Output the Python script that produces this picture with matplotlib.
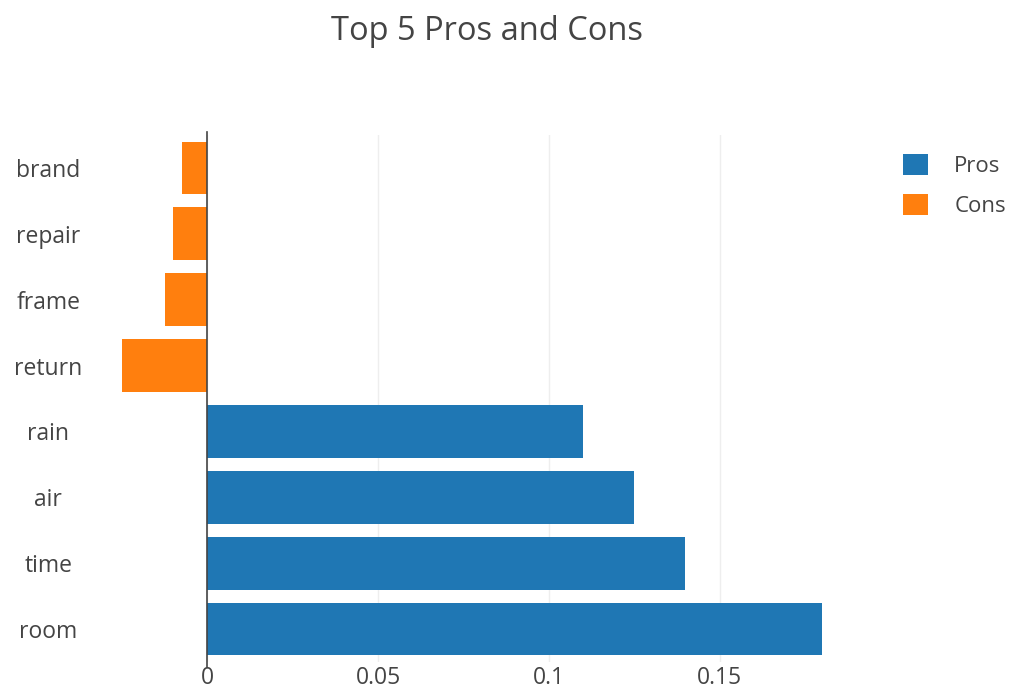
import matplotlib
matplotlib.use("Agg")
import matplotlib.pyplot as plt
from matplotlib.patches import Patch

plt.rcParams['font.family'] = ['Open Sans', 'DejaVu Sans']

categories = ["room", "time", "air", "rain", "return", "frame", "repair", "brand"]
pros_labels = ["room", "time", "air", "rain"]
pros_values = [0.180, 0.140, 0.125, 0.110]
cons_labels = ["return", "frame", "repair", "brand"]
cons_values = [-0.025, -0.0125, -0.010, -0.0075]
xticks = [0, 0.05, 0.1, 0.15]
xticklabels = ["0", "0.05", "0.1", "0.15"]

pros_color = "#1f77b4"
cons_color = "#ff7f0e"
text_color = "#444444"

fig = plt.figure(figsize=(10.14, 6.9), dpi=100)
ax = fig.add_axes([0.1203, 0.0406, 0.8107 - 0.1203, 0.8043 - 0.0406])

pos = {c: i for i, c in enumerate(categories)}
ax.barh([pos[c] for c in pros_labels], pros_values, height=0.8, color=pros_color, zorder=3)
ax.barh([pos[c] for c in cons_labels], cons_values, height=0.8, color=cons_color, zorder=3)

ax.set_xlim(-0.025, 0.18)
ax.set_ylim(-0.5, len(categories) - 0.5)
ax.set_yticks(range(len(categories)))
ax.set_yticklabels(categories)
ax.set_xticks(xticks)
ax.set_xticklabels(xticklabels)
ax.tick_params(axis='both', length=0, labelsize=16.5, colors=text_color)
ax.tick_params(axis='x', pad=3)
for lab in ax.get_yticklabels():
    lab.set_horizontalalignment('center')
ax.tick_params(axis='y', pad=53)

for s in ax.spines.values():
    s.set_visible(False)
ax.grid(axis='x', color='#eeeeee', linewidth=1, zorder=0)
ax.grid(axis='y', visible=False)
ax.axvline(0, color=text_color, linewidth=1.2, zorder=4, ymin=-0.01, ymax=1.005, clip_on=False)

fig.text(0.4800, 0.955, "Top 5 Pros and Cons", ha='center', va='center', fontsize=23.5, color=text_color)

handles = [Patch(facecolor=pros_color, label="Pros"), Patch(facecolor=cons_color, label="Cons")]
leg = fig.legend(handles=handles, loc='upper left', bbox_to_anchor=(0.871, 0.806), frameon=False,
                 fontsize=16, handlelength=1.1, handleheight=1.1, handletextpad=1.2, labelspacing=0.75,
                 labelcolor=text_color)

fig.savefig("out.png", dpi=100, facecolor='white')
